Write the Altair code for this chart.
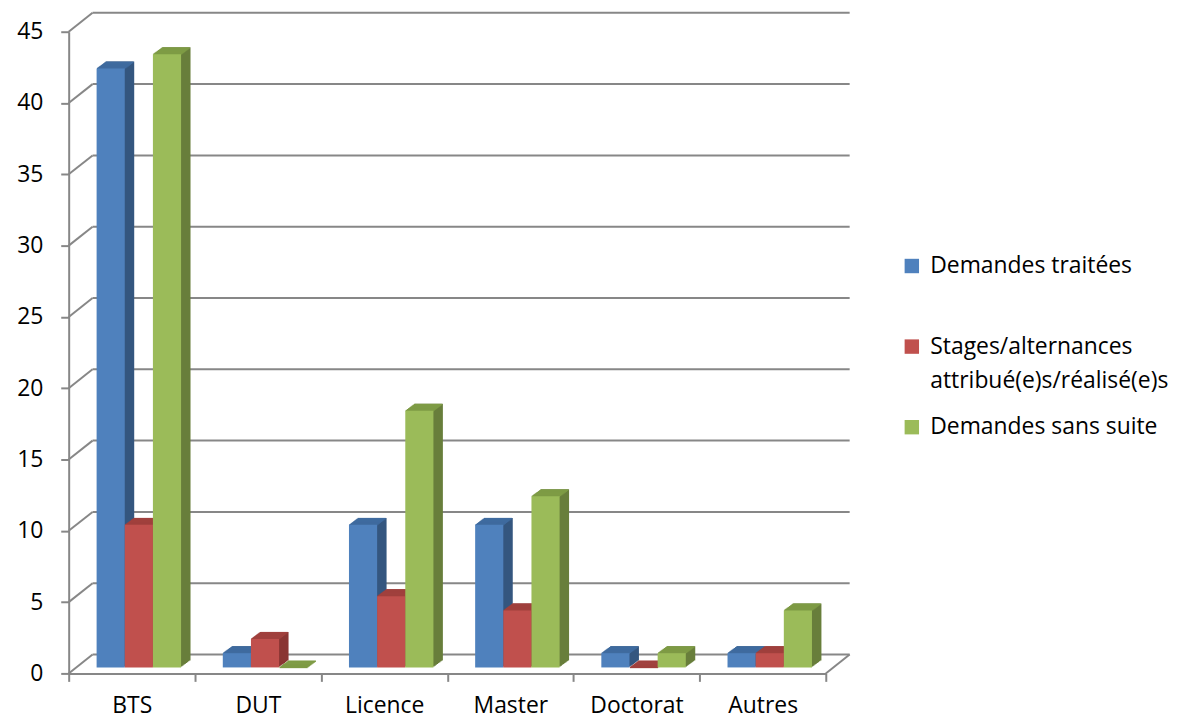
import altair as alt
import pandas as pd

# ---------------- data ----------------
categories = ["BTS", "DUT", "Licence", "Master", "Doctorat", "Autres"]
series_labels = [
    "Demandes traitées",
    "Stages/alternances\nattribué(e)s/réalisé(e)s",
    "Demandes sans suite",
]
demandes_traitees = [42, 1, 10, 10, 1, 1]
stages_realises = [10, 2, 5, 4, 0, 1]
demandes_sans_suite = [43, 0, 18, 12, 1, 4]
y_ticks = [0, 5, 10, 15, 20, 25, 30, 35, 40, 45]

front_colors = ["#4f81bd", "#c0504d", "#9bbb59"]
side_colors = ["#34567f", "#8a3533", "#687e3b"]
top_colors = ["#3f6b9f", "#a0403d", "#7e9b45"]

series_values = [demandes_traitees, stages_realises, demandes_sans_suite]

# ---------------- style / geometry ----------------
W, H = 761, 645
WALL_DX, WALL_DY = 24, -19          # depth of back wall
BAR_W = 28.3
BAR_PLANE_DX, BAR_PLANE_DY = 7.1, -6  # bars sit a bit behind front plane
BAR_DEPTH_X, BAR_DEPTH_Y = 9.5, -7
STEPS = 8
GRID = "#878787"
GW = 2
FONT = "Open Sans"
FS = 23

xscale = alt.Scale(domain=categories, paddingInner=0, paddingOuter=0)
yscale = alt.Scale(domain=[0, 45], nice=False, zero=True)

x_axis = alt.Axis(title=None, tickBand="extent", ticks=True, tickSize=8, tickColor=GRID,
                  tickWidth=GW, domainColor=GRID, domainWidth=GW, labelFont=FONT,
                  labelFontSize=FS, labelColor="black", labelPadding=13, labelAngle=0,
                  grid=False)
y_axis = alt.Axis(title=None, values=y_ticks, tickSize=8, tickColor=GRID, tickWidth=GW,
                  domainColor=GRID, domainWidth=GW, labelFont=FONT, labelFontSize=FS,
                  labelColor="black", labelPadding=18, grid=False)
legend = alt.Legend(title=None, orient="none", legendX=836, legendY=224,
                    symbolType="square", symbolSize=210, symbolStrokeWidth=0,
                    labelFont=FONT, labelFontSize=FS, labelColor="black",
                    labelOffset=7, labelLimit=0, rowPadding=22, gridAlign="all",
                    labelExpr="split(datum.label, '\\n')")

frames = []
for s, vals in zip(series_labels, series_values):
    frames.append(pd.DataFrame({"categorie": categories, "serie": s, "valeur": vals}))

ticks_df = pd.DataFrame({"v": y_ticks})
zero_df = pd.DataFrame({"v": [0]})

X = alt.X("categorie:N", scale=xscale, axis=x_axis)
Yv = alt.Y("valeur:Q", scale=yscale, axis=y_axis)
Yt = alt.Y("v:Q", scale=yscale, axis=y_axis)

layers = []

# back wall gridlines
layers.append(
    alt.Chart(ticks_df).mark_rule(color=GRID, strokeWidth=GW, yOffset=WALL_DY, y2Offset=WALL_DY)
    .encode(x=alt.value(WALL_DX), x2=alt.value(W + WALL_DX), y=Yt, y2=alt.Y2("v:Q"))
)
# side-wall diagonals from the value axis to the back wall
layers.append(
    alt.Chart(ticks_df).mark_rule(color=GRID, strokeWidth=GW, y2Offset=WALL_DY)
    .encode(x=alt.value(0), x2=alt.value(WALL_DX), y=Yt, y2=alt.Y2("v:Q"))
)
# right floor edge
layers.append(
    alt.Chart(zero_df).mark_rule(color=GRID, strokeWidth=GW, y2Offset=WALL_DY)
    .encode(x=alt.value(W), x2=alt.value(W + WALL_DX), y=Yt, y2=alt.Y2("v:Q"))
)

for i, df in enumerate(frames):
    cx = (i - 1) * BAR_W + BAR_PLANE_DX
    # side face copies (extruded silhouette)
    for k in range(1, STEPS + 1):
        dx = BAR_DEPTH_X * k / STEPS
        dy = BAR_DEPTH_Y * k / STEPS
        layers.append(
            alt.Chart(df).mark_bar(width=BAR_W, color=side_colors[i], xOffset=cx + dx,
                                   yOffset=BAR_PLANE_DY + dy, y2Offset=BAR_PLANE_DY + dy)
            .encode(x=X, y=Yv)
        )
    # top face strips
    for k in range(1, STEPS + 1):
        dx = BAR_DEPTH_X * k / STEPS
        dy = BAR_DEPTH_Y * k / STEPS
        layers.append(
            alt.Chart(df).mark_bar(width=BAR_W, color=top_colors[i], xOffset=cx + dx - 0.8,
                                   yOffset=BAR_PLANE_DY + dy, y2Offset=BAR_PLANE_DY + dy + 1.6)
            .encode(x=X, y=Yv, y2=alt.Y2("valeur:Q"))
        )
    # front face
    layers.append(
        alt.Chart(df).mark_bar(width=BAR_W, xOffset=cx, yOffset=BAR_PLANE_DY,
                               y2Offset=BAR_PLANE_DY)
        .encode(x=X, y=Yv,
                color=alt.Color("serie:N",
                                scale=alt.Scale(domain=series_labels, range=front_colors),
                                legend=legend))
    )

chart = (
    alt.layer(*layers)
    .properties(width=W, height=H, autosize=alt.AutoSizeParams(type="none"),
                padding={"left": 61, "top": 22, "right": 345, "bottom": 47},
                background="white")
    .configure(style={"guide-label": {"lineHeight": 35}})
    .configure_view(stroke=None)
)

chart.save("out.html", embed_options={"renderer": "svg", "actions": False})
